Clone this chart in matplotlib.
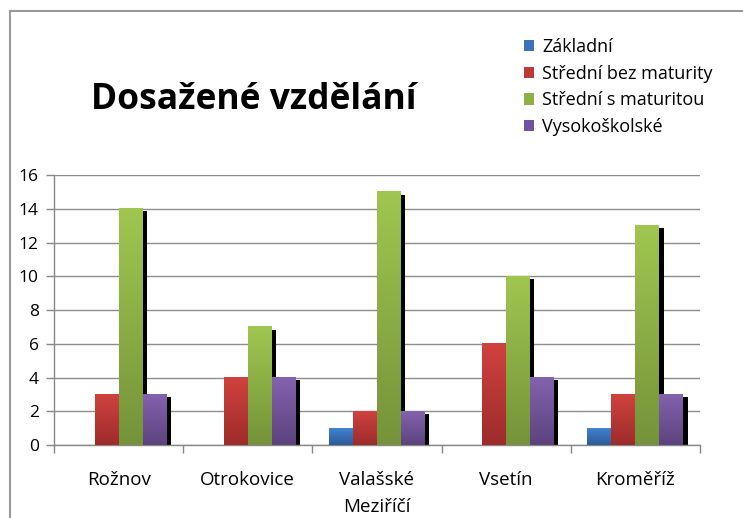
import numpy as np
import matplotlib.pyplot as plt
from matplotlib.lines import Line2D
from matplotlib.patches import Patch

plt.rcParams['font.family'] = ['Open Sans', 'DejaVu Sans']

cities = ['Rožnov', 'Otrokovice', 'Valašské\nMeziříčí', 'Vsetín', 'Kroměříž']
series = ['Základní', 'Střední bez maturity', 'Střední s maturitou', 'Vysokoškolské']
zakladni = [0, 0, 1, 0, 1]
stredni_bez = [3, 4, 2, 6, 3]
stredni_s = [14, 7, 15, 10, 13]
vysokoskolske = [3, 4, 2, 4, 3]
values = [zakladni, stredni_bez, stredni_s, vysokoskolske]

# top / bottom colours of the gradient
tops = ['#4283D0', '#D0423F', '#A0C650', '#8462AE']
bottoms = ['#2C5B99', '#9D2C2B', '#75933A', '#5C437D']
legend_cols = ['#3A73BA', '#BE3A37', '#8DB145', '#7252A0']

fig = plt.figure(figsize=(7.43, 5.18), dpi=100)
ax = fig.add_axes([0.0727, 0.1409, 0.8693, 0.5212])

bw = 24 / 129.2
n = len(series)
x = np.arange(len(cities)) + 0.5
sdx = 4.3 / 129.2
sdy = 0.16

def hex2rgb(h):
    return np.array([int(h[i:i + 2], 16) / 255 for i in (1, 3, 5)])

for i in range(n):
    off = (i - (n - 1) / 2) * bw
    for j, v in enumerate(values[i]):
        if v <= 0:
            continue
        x0 = x[j] + off - bw / 2
        # shadow
        ax.add_patch(plt.Rectangle((x0 + sdx, 0), bw, v - sdy, color='black', zorder=2, lw=0))
        t = np.linspace(0, 1, 64)[:, None]
        grad = (1 - t) * hex2rgb(tops[i]) + t * hex2rgb(bottoms[i])
        grad = grad[:, None, :]
        ax.imshow(grad, extent=[x0, x0 + bw, 0, v], aspect='auto', zorder=3 + i * 0.01,
                  interpolation='bilinear')

ax.set_xlim(0, len(cities))
ax.set_ylim(0, 16)
ax.set_yticks(range(0, 17, 2))
ax.set_xticks(range(len(cities) + 1))
ax.set_xticklabels([])
ax.set_xticks(x, minor=True)
ax.set_xticklabels(cities, minor=True, fontsize=13.5, linespacing=1.6)
ax.tick_params(axis='x', which='minor', length=0, pad=19)
ax.tick_params(axis='x', which='major', length=6, color='#888888', width=1)
ax.tick_params(axis='y', length=6, color='#888888', width=1, labelsize=12.5, pad=5)
ax.grid(axis='y', color='#8C8C8C', lw=1, zorder=0)
ax.set_axisbelow(True)
for s in ['top', 'right']:
    ax.spines[s].set_visible(False)
for s in ['left', 'bottom']:
    ax.spines[s].set_color('#888888')
    ax.spines[s].set_linewidth(1)

fig.text(0.122, 0.806, 'Dosažené vzdělání', fontsize=25.5, fontweight='bold', va='center')

handles = [Patch(facecolor=c, edgecolor='none') for c in legend_cols]
fig.legend(handles, series, loc='upper left', bbox_to_anchor=(0.683, 0.958), frameon=False,
           fontsize=13, handlelength=0.58, handleheight=0.58, handletextpad=0.45,
           labelspacing=0.48)

# chart border (top and left)
fig.add_artist(Line2D([0.0128, 1.0], [0.9788, 0.9788], color='#999999', lw=1.5))
fig.add_artist(Line2D([0.0128, 0.0128], [0.0, 0.9788], color='#999999', lw=1.5))

fig.savefig('out.png', dpi=100)
